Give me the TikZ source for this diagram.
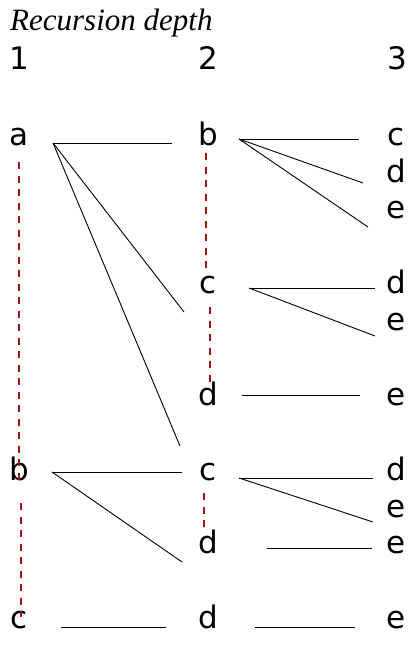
\documentclass[tikz,border=0pt]{standalone}
\usepackage{fontspec}
\setmainfont{DejaVu Sans}
\newfontfamily\titlefont{Liberation Serif}
\usetikzlibrary{calc}
\definecolor{linkred}{RGB}{160,20,20}

\begin{document}
\begin{tikzpicture}[x=1pt, y=-1pt,
    lbl/.style={anchor=base, inner sep=0pt, font=\fontsize{31}{37}\selectfont},
    call/.style={line width=0.9pt, black},
    sibling/.style={line width=1.2pt, linkred, dash pattern=on 7pt off 6.5pt}]
    \useasboundingbox (0,0) rectangle (413,645);
    % Titel und Tiefen
    \node[lbl, anchor=base west] (title) at (10,30) {\titlefont\itshape Recursion depth};
    \node[lbl] (d1) at (19,69) {1};
    \node[lbl] (d2) at (208,69) {2};
    \node[lbl] (d3) at (397,69) {3};
    % Tiefe 1
    \node[lbl] (a) at (19,145) {a};
    \node[lbl] (b) at (19,480) {b};
    \node[lbl] (c) at (19,628) {c};
    % Tiefe 2
    \node[lbl] (ab) at (208,145) {b};
    \node[lbl] (ac) at (208,293) {c};
    \node[lbl] (ad) at (208,405) {d};
    \node[lbl] (bc) at (208,480) {c};
    \node[lbl] (bd) at (208,553) {d};
    \node[lbl] (cd) at (208,628) {d};
    % Tiefe 3
    \node[lbl] (abc) at (396,145) {c};
    \node[lbl] (abd) at (396,182) {d};
    \node[lbl] (abe) at (396,218) {e};
    \node[lbl] (acd) at (396,293) {d};
    \node[lbl] (ace) at (396,330) {e};
    \node[lbl] (ade) at (396,405) {e};
    \node[lbl] (bcd) at (396,480) {d};
    \node[lbl] (bce) at (396,517) {e};
    \node[lbl] (bde) at (396,553) {e};
    \node[lbl] (cde) at (396,628) {e};

    % Aufrufe
    \draw[call] ($(a.base)+(34,-2)$) -- ($(ab.base)+(-36,-2)$);
    \draw[call] ($(a.base)+(34,-2)$) -- ($(ac.base)+(-24,19)$);
    \draw[call] ($(a.base)+(34,-2)$) -- ($(ad.base)+(-28,41)$);
    \draw[call] ($(ab.base)+(31,-6)$) -- ($(abc.base)+(-37,-6)$);
    \draw[call] ($(ab.base)+(31,-6)$) -- ($(abd.base)+(-33,1)$);
    \draw[call] ($(ab.base)+(31,-6)$) -- ($(abe.base)+(-28,9)$);
    \draw[call] ($(ac.base)+(41,-5)$) -- ($(acd.base)+(-21,-5)$);
    \draw[call] ($(ac.base)+(41,-5)$) -- ($(ace.base)+(-21,6)$);
    \draw[call] ($(ad.base)+(34,-10)$) -- ($(ade.base)+(-36,-10)$);
    \draw[call] ($(b.base)+(33,-8)$) -- ($(bc.base)+(-26,-8)$);
    \draw[call] ($(b.base)+(33,-8)$) -- ($(bd.base)+(-26,9)$);
    \draw[call] ($(bc.base)+(31,-2)$) -- ($(bcd.base)+(-23,-2)$);
    \draw[call] ($(bc.base)+(31,-2)$) -- ($(bce.base)+(-23,5)$);
    \draw[call] ($(bd.base)+(59,-5)$) -- ($(bde.base)+(-24,-5)$);
    \draw[call] ($(c.base)+(42,-1)$) -- ($(cd.base)+(-42,-1)$);
    \draw[call] ($(cd.base)+(47,-1)$) -- ($(cde.base)+(-41,-1)$);

    % Geschwister
    \draw[sibling] ($(a.base)+(0,17)$) -- (b.base);
    \draw[sibling] ($(b.base)+(2,23)$) -- ($(c.base)+(2,-11)$);
    \draw[sibling] ($(ab.base)+(-2,8)$) -- ($(ac.base)+(-2,-25)$);
    \draw[sibling] ($(ac.base)+(2,14)$) -- ($(ad.base)+(2,-22)$);
    \draw[sibling] ($(bc.base)+(-4,13)$) -- ($(bd.base)+(-4,-26)$);
\end{tikzpicture}
\end{document}
